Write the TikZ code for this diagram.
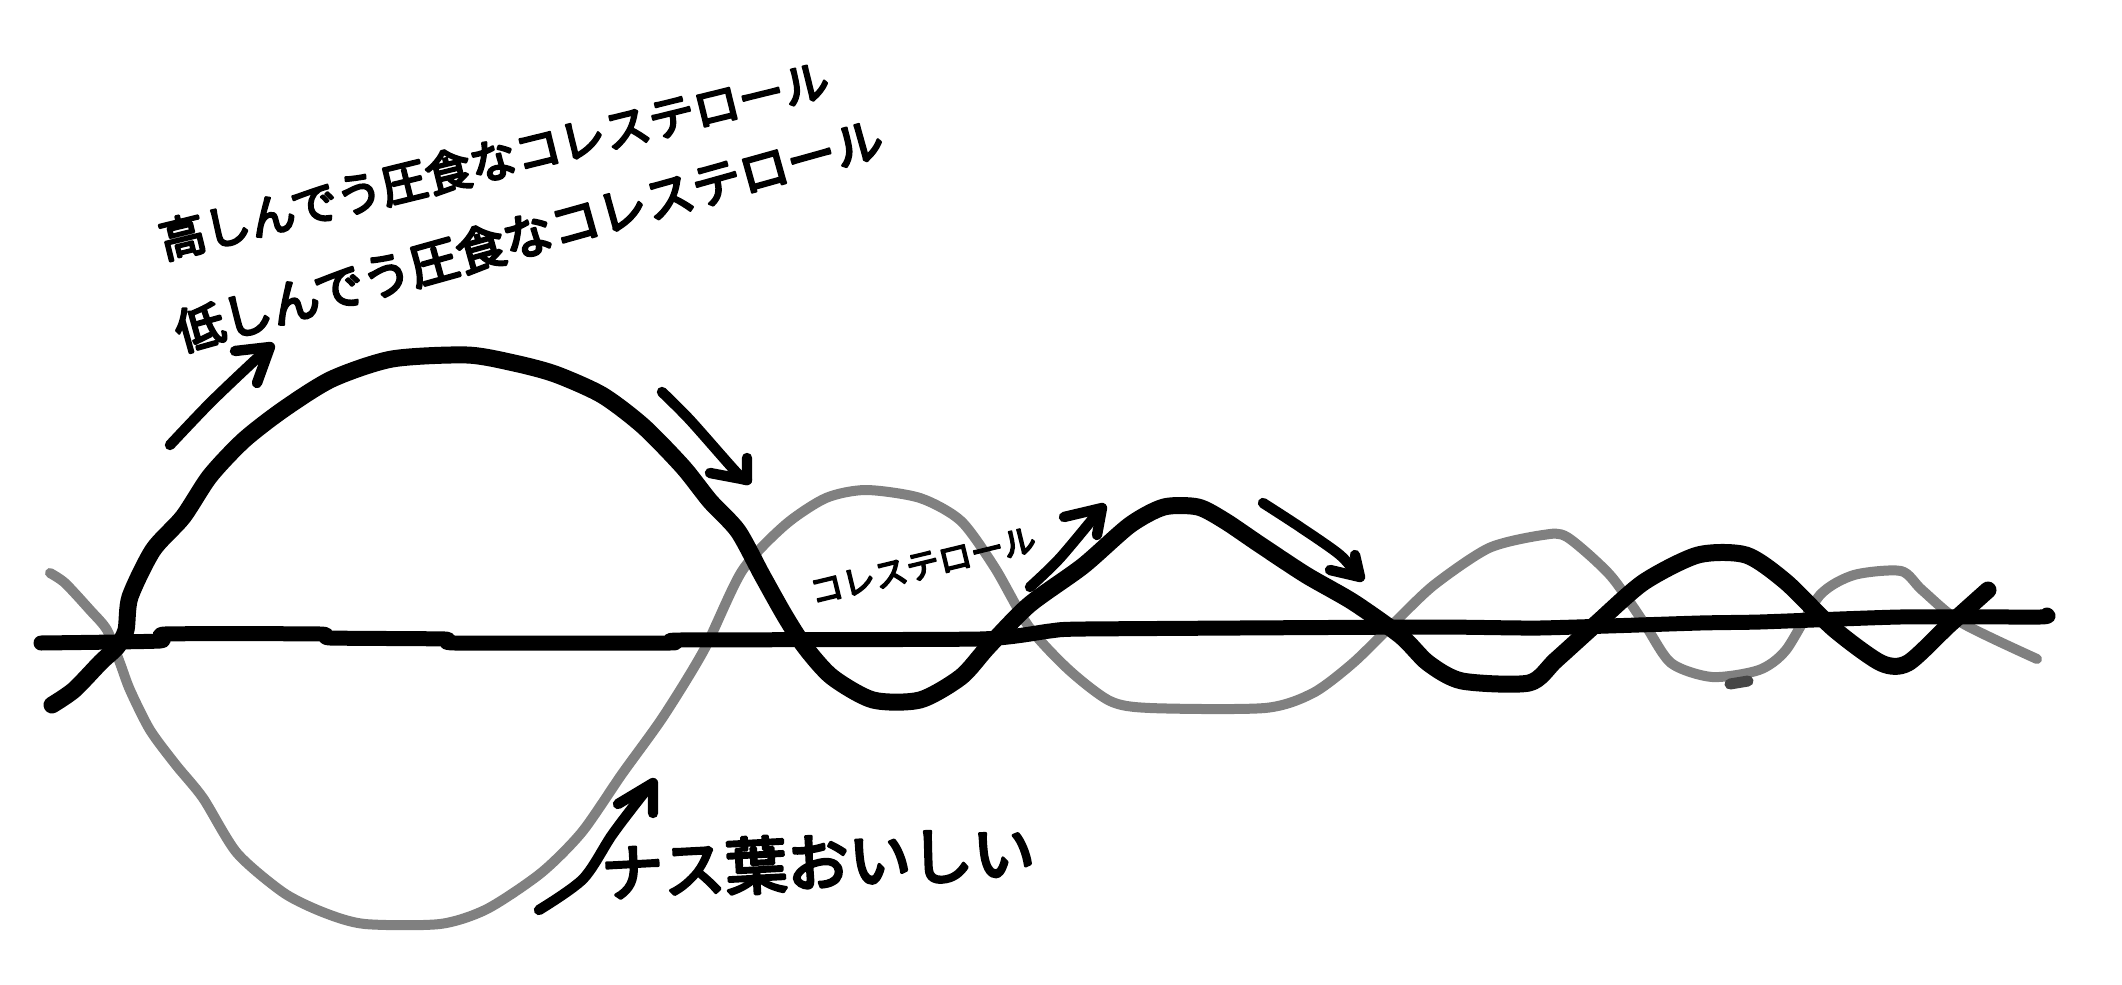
\documentclass[tikz,border=0pt]{standalone}
\usepackage{fontspec}
\newfontfamily\cjk{Noto Sans CJK JP}[FakeBold=5]
\begin{document}
\begin{tikzpicture}[x=0.5pt,y=-0.5pt,line cap=round,line join=round,
  blackline/.style={line width=8.5pt,black},
  grayline/.style={line width=5pt,color={rgb,255:red,128;green,128;blue,128}},
  axisline/.style={line width=7.5pt,black},
  arr/.style={line width=5.2pt,black},
  hand/.style={font=\cjk,inner sep=0pt,text=black}]
\fill[white] (0,0) rectangle (2122,985);
\useasboundingbox (0,0) rectangle (2122,985);
% gray wave
\draw[grayline] plot[smooth,tension=0.45] coordinates {
 (50,573) (65,583) (90,610) (107,630) (120,663) (130,690) (150,730) (176,765) (203,798)
 (237,853) (284,893) (325,913) (365,924) (440,924) (487,909) (541,873) (582,832)
 (622,774) (663,717) (704,650) (742,571) (785,525) (826,498) (866,490) (920,498)
 (961,521) (995,568) (1029,627) (1069,670) (1110,701) (1150,708) (1265,708)
 (1313,693) (1353,663) (1394,623) (1434,585) (1489,548) (1543,535) (1567,537)
 (1610,575) (1644,623) (1671,663) (1712,677) (1759,670) (1786,650) (1820,595)
 (1854,575) (1901,571) (1922,590) (1962,623) (2037,659)};
\draw[line width=5.5pt,color={rgb,255:red,70;green,70;blue,70}] (1730,684) -- (1748,681);
% axis
\draw[axisline] plot[smooth,tension=0.3] coordinates {
 (41,643) (160,641) (165,634) (320,634) (330,638) (445,639) (455,643) (670,643)
 (680,640) (980,639) (1050,631) (1085,629) (1430,627) (1540,628) (1700,623)
 (1760,622) (1900,617) (2040,617) (2047,615)};
% black wave
\draw[blackline] plot[smooth,tension=0.45] coordinates {
 (52,705) (74,690) (101,662) (117,647) (126,630) (130,597) (153,550) (183,517)
 (210,476) (244,440) (284,409) (332,379) (392,359) (467,355) (514,363) (555,374)
 (602,395) (643,426) (683,467) (710,501) (738,531) (762,575) (785,616) (805,647)
 (832,677) (873,700) (920,700) (961,677) (988,647) (1029,605) (1083,566)
 (1130,525) (1164,507) (1198,507) (1225,521) (1259,544) (1306,575) (1353,602)
 (1401,636) (1428,663) (1462,681) (1529,683) (1556,660) (1597,623) (1644,582)
 (1698,555) (1746,555) (1786,582) (1834,629) (1881,663) (1908,663) (1949,625)
 (1988,590)};
% arrows
\draw[arr] plot[smooth,tension=0.5] coordinates {(170,445) (210,403) (253,362) (268,349)};
\draw[arr] (235,351) -- (270,347) -- (257,383);
\draw[arr] plot[smooth,tension=0.5] coordinates {(662,392) (690,420) (737,473) (747,480)};
\draw[arr] (710,473) -- (747,480) -- (747,458);
\draw[arr] plot[smooth,tension=0.5] coordinates {(1030,587) (1060,558) (1100,510)};
\draw[arr] (1064,517) -- (1102,508) -- (1097,535);
\draw[arr] plot[smooth,tension=0.5] coordinates {(1263,503) (1300,527) (1340,555) (1358,576)};
\draw[arr] (1330,570) -- (1360,577) -- (1355,555);
\draw[arr] plot[smooth,tension=0.5] coordinates {(539,910) (583,879) (612,835) (640,798) (651,785)};
\draw[arr] (618,804) -- (653,783) -- (653,813);
% texts
\node[hand,font=\cjk\fontsize{23}{23}\selectfont,rotate=13.8] (t1) at (494,160) {高しんでう圧食なコレステロール};
\node[hand,font=\cjk\fontsize{24.5}{24.5}\selectfont,rotate=15.6] (t2) at (529,235) {低しんでう圧食なコレステロール};
\node[hand,font=\cjk\fontsize{16.5}{16.5}\selectfont,rotate=13.6] (t3) at (923,566) {コレステロール};
\node[hand,font=\cjk\fontsize{31}{31}\selectfont,rotate=3] (t4) at (818,862) {ナス葉おいしい};
\end{tikzpicture}
\end{document}
